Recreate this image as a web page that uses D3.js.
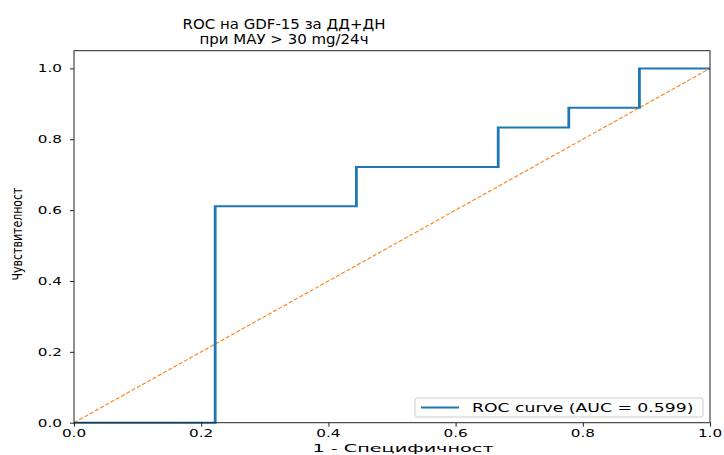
<html>
<head>
<meta charset="utf-8">
<script src="https://d3js.org/d3.v7.min.js"></script>
<style>
  body { margin: 0; background: white; }
  text { font-family: "DejaVu Sans", sans-serif; fill: black; }
</style>
</head>
<body>
<svg width="724" height="455"></svg>
<script>
// ROC points (1 - specificity, sensitivity)
var fpr = [0, 0.222, 0.222, 0.444, 0.444, 0.667, 0.667, 0.778, 0.778, 0.889, 0.889, 1];
var tpr = [0, 0, 0.611, 0.611, 0.722, 0.722, 0.833, 0.833, 0.889, 0.889, 1, 1];
var chance = [0, 1];
var tickValues = [0, 0.2, 0.4, 0.6, 0.8, 1.0];
var titleLines = ["ROC на GDF-15 за ДД+ДН", "при МАУ > 30 mg/24ч"];
var xLabel = "1 - Специфичност";
var yLabel = "Чувствителност";
var legendLabel = "ROC curve (AUC = 0.599)";

var svg = d3.select("svg");
var mLeft = 74, mRight = 710, mTop = 50.7, mBottom = 422.7;
var stretch = 1.4; // the picture is stretched sideways

var x = d3.scaleLinear().domain([0, 1]).range([mLeft, mRight]);
var y = d3.scaleLinear().domain([0, 1.05]).range([mBottom, mTop]);

function put(g, str, px, py, size, sx, anchor) {
  return g.append("text")
    .attr("transform", "translate(" + px + "," + py + ") scale(" + sx + ",1)")
    .attr("text-anchor", anchor)
    .style("font-size", size + "px")
    .text(str);
}

var plot = svg.append("g");

// chance diagonal
plot.append("path")
  .datum(chance)
  .attr("d", d3.line().x(function(d) { return x(d); }).y(function(d) { return y(d); }))
  .attr("fill", "none")
  .attr("stroke", "#ff7f0e")
  .attr("stroke-width", 1.1)
  .attr("stroke-dasharray", "4,2");

// roc curve, drawn in the stretched frame so vertical strokes come out wider
var pts = fpr.map(function(v, i) { return [v, tpr[i]]; });
plot.append("g")
  .attr("transform", "scale(" + stretch + ",1)")
  .append("path")
  .datum(pts)
  .attr("d", d3.line().x(function(d) { return x(d[0]) / stretch; }).y(function(d) { return y(d[1]); }))
  .attr("fill", "none")
  .attr("stroke", "#1f77b4")
  .attr("stroke-width", 2);

// frame
svg.append("rect")
  .attr("x", mLeft).attr("y", mTop)
  .attr("width", mRight - mLeft).attr("height", mBottom - mTop)
  .attr("fill", "none").attr("stroke", "#222").attr("stroke-width", 1);

// axes
svg.append("g")
  .attr("transform", "translate(0," + mBottom + ")")
  .call(d3.axisBottom(x).tickValues(tickValues).tickSize(4).tickFormat(function() { return ""; }));
svg.append("g")
  .attr("transform", "translate(" + mLeft + ",0)")
  .call(d3.axisLeft(y).tickValues(tickValues).tickSize(4).tickFormat(function() { return ""; }));
svg.selectAll(".domain").remove();
svg.selectAll(".tick line").attr("stroke", "#222");

var labels = svg.append("g");
tickValues.forEach(function(t) {
  put(labels, d3.format(".1f")(t), x(t), 437, 10.5, 1.45, "middle");
  put(labels, d3.format(".1f")(t), mLeft - 12, y(t) + 4, 10.5, 1.45, "end");
});

put(labels, xLabel, 403, 452, 11, 1.75, "middle");
labels.append("text")
  .attr("transform", "translate(22,234) scale(1.35,1) rotate(-90)")
  .attr("text-anchor", "middle")
  .style("font-size", "11px")
  .text(yLabel);

// title
put(labels, titleLines[0], 284, 29, 13.5, 1.11, "middle");
put(labels, titleLines[1], 284, 44, 13.5, 1.11, "middle");

// legend
var leg = svg.append("g");
leg.append("rect")
  .attr("x", 415).attr("y", 398)
  .attr("width", 288).attr("height", 19)
  .attr("rx", 2)
  .attr("fill", "white").attr("stroke", "#ccc");
leg.append("line")
  .attr("x1", 421).attr("x2", 459)
  .attr("y1", 407.5).attr("y2", 407.5)
  .attr("stroke", "#1f77b4").attr("stroke-width", 2);
put(leg, legendLabel, 472, 411.5, 11.5, 1.5, "start");
</script>
</body>
</html>
